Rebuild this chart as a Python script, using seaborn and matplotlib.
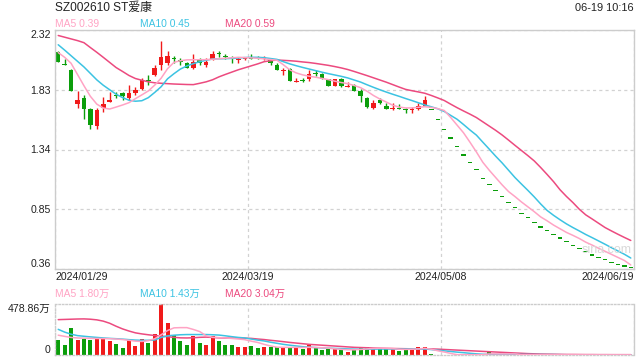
import numpy as np
import pandas as pd
import matplotlib
matplotlib.use("Agg")
import matplotlib.pyplot as plt
import seaborn as sns

sns.set_theme(style="white")
plt.rcParams['font.family'] = ['Liberation Sans', 'Noto Sans CJK SC', 'DejaVu Sans']

# --- data ---
title = "SZ002610 ST爱康"
stamp = "06-19 10:16"
date_labels = ["2024/01/29", "2024/03/19", "2024/05/08", "2024/06/19"]
date_pos = [0, 30, 60, 90]
price_ticks = [0.36, 0.85, 1.34, 1.83, 2.32]

# limit-down run at the end (open = high = low = close)
limit_down = [1.66, 1.58, 1.50, 1.43, 1.36, 1.29, 1.23, 1.17, 1.10, 1.05,
              1.00, 0.95, 0.90, 0.86, 0.81, 0.78, 0.74, 0.70, 0.67, 0.64,
              0.61, 0.58, 0.55, 0.52, 0.50, 0.47, 0.45, 0.43, 0.41, 0.39,
              0.38, 0.37]

opens = [2.14, 2.04, 1.99, 1.71, 1.76, 1.67, 1.53, 1.68, 1.73, 1.79,
         1.80, 1.76, 1.80, 1.84, 1.91, 1.95, 2.03, 2.05, 2.09, 2.07,
         2.05, 2.01, 2.07, 2.03, 2.08, 2.13, 2.11, 2.09, 2.07, 2.08,
         2.10, 2.10, 2.08, 2.07, 2.03, 1.98, 2.00, 1.89, 1.91, 1.92,
         1.97, 1.96, 1.92, 1.86, 1.92, 1.85, 1.87, 1.82, 1.76, 1.68,
         1.75, 1.70, 1.67, 1.68, 1.67, 1.66, 1.67, 1.70] + limit_down
highs = [2.15, 2.08, 2.00, 1.82, 1.79, 1.68, 1.68, 1.77, 1.81, 1.81,
         1.81, 1.87, 1.85, 1.93, 1.95, 2.03, 2.23, 2.15, 2.11, 2.09,
         2.06, 2.12, 2.09, 2.09, 2.15, 2.15, 2.12, 2.11, 2.10, 2.10,
         2.12, 2.11, 2.11, 2.09, 2.05, 2.01, 2.01, 1.93, 1.93, 1.99,
         1.99, 1.97, 1.92, 1.92, 1.93, 1.89, 1.88, 1.84, 1.77, 1.75,
         1.76, 1.72, 1.72, 1.71, 1.68, 1.69, 1.72, 1.78] + limit_down
lows = [2.06, 2.03, 1.82, 1.68, 1.59, 1.51, 1.51, 1.65, 1.73, 1.76,
        1.75, 1.75, 1.79, 1.83, 1.87, 1.94, 1.99, 2.03, 2.05, 2.03,
        2.01, 2.00, 2.03, 2.02, 2.07, 2.10, 2.08, 2.05, 2.05, 2.07,
        2.08, 2.08, 2.07, 2.03, 1.99, 1.95, 1.90, 1.89, 1.89, 1.90,
        1.94, 1.92, 1.86, 1.86, 1.85, 1.85, 1.82, 1.73, 1.68, 1.67,
        1.71, 1.67, 1.66, 1.67, 1.64, 1.64, 1.66, 1.70] + limit_down
closes = [2.06, 2.03, 1.82, 1.75, 1.67, 1.54, 1.66, 1.71, 1.75, 1.78,
          1.78, 1.80, 1.83, 1.91, 1.90, 2.01, 2.10, 2.11, 2.08, 2.06,
          2.01, 2.06, 2.05, 2.06, 2.12, 2.12, 2.10, 2.08, 2.08, 2.09,
          2.08, 2.09, 2.09, 2.05, 1.99, 1.99, 1.90, 1.90, 1.90, 1.96,
          1.96, 1.92, 1.86, 1.92, 1.86, 1.86, 1.82, 1.78, 1.69, 1.72,
          1.72, 1.67, 1.68, 1.67, 1.66, 1.67, 1.70, 1.75] + limit_down

ma5 = [2.135, 2.096, 2.047, 1.955, 1.863, 1.776, 1.712, 1.680, 1.672, 1.688,
       1.705, 1.724, 1.757, 1.788, 1.820, 1.868, 1.925, 2.003, 2.055, 2.068,
       2.075, 2.076, 2.076, 2.077, 2.080, 2.084, 2.088, 2.092, 2.096, 2.094,
       2.091, 2.088, 2.083, 2.078, 2.072, 2.035, 1.993, 1.968, 1.952, 1.941,
       1.933, 1.923, 1.913, 1.900, 1.889, 1.880, 1.865, 1.847, 1.818, 1.783,
       1.754, 1.729, 1.703, 1.688, 1.681, 1.681, 1.686, 1.691, 1.685, 1.675,
       1.660, 1.603, 1.540, 1.477, 1.400, 1.320, 1.235, 1.170, 1.110, 1.050,
       0.995, 0.954, 0.910, 0.870, 0.830, 0.787, 0.755, 0.720, 0.690, 0.660,
       0.636, 0.610, 0.580, 0.556, 0.530, 0.505, 0.480, 0.455, 0.430, 0.393]
ma10 = [2.199, 2.155, 2.109, 2.063, 2.017, 1.964, 1.911, 1.867, 1.830, 1.793,
        1.766, 1.744, 1.736, 1.740, 1.765, 1.808, 1.855, 1.920, 1.962, 2.000,
        2.025, 2.044, 2.060, 2.072, 2.082, 2.084, 2.085, 2.087, 2.090, 2.094,
        2.096, 2.096, 2.093, 2.086, 2.079, 2.060, 2.042, 2.027, 2.013, 2.000,
        1.987, 1.974, 1.962, 1.951, 1.940, 1.927, 1.910, 1.893, 1.871, 1.850,
        1.830, 1.811, 1.793, 1.776, 1.758, 1.741, 1.723, 1.705, 1.690, 1.674,
        1.652, 1.620, 1.588, 1.545, 1.500, 1.458, 1.400, 1.343, 1.285, 1.230,
        1.170, 1.110, 1.057, 1.005, 0.951, 0.893, 0.840, 0.800, 0.764, 0.730,
        0.700, 0.672, 0.643, 0.617, 0.590, 0.563, 0.535, 0.508, 0.481, 0.450]
ma20 = [2.275, 2.261, 2.247, 2.233, 2.216, 2.176, 2.137, 2.096, 2.054, 2.012,
        1.980, 1.947, 1.922, 1.908, 1.895, 1.887, 1.883, 1.880, 1.877, 1.875,
        1.873, 1.872, 1.883, 1.895, 1.912, 1.936, 1.956, 1.975, 1.994, 2.010,
        2.026, 2.042, 2.060, 2.068, 2.074, 2.071, 2.068, 2.064, 2.058, 2.053,
        2.046, 2.038, 2.030, 2.020, 2.009, 1.996, 1.980, 1.963, 1.946, 1.928,
        1.910, 1.892, 1.872, 1.852, 1.833, 1.822, 1.812, 1.801, 1.783, 1.763,
        1.742, 1.712, 1.683, 1.656, 1.630, 1.602, 1.567, 1.532, 1.497, 1.459,
        1.417, 1.374, 1.332, 1.290, 1.246, 1.192, 1.135, 1.076, 1.010, 0.955,
        0.905, 0.850, 0.804, 0.770, 0.735, 0.700, 0.672, 0.645, 0.619, 0.594]

# volume in 万 shares
volumes = [137, 98, 257, 137, 150, 137, 150, 150, 127, 104,
           65, 144, 88, 153, 110, 195, 478.86, 300, 186, 130,
           98, 179, 117, 98, 176, 130, 98, 98, 78, 71,
           85, 65, 71, 71, 71, 71, 71, 78, 52, 95,
           62, 46, 56, 56, 49, 29, 56, 71, 78, 56,
           56, 56, 56, 39, 56, 62, 71, 71, 6, 4,
           3, 3, 2.5, 2.5, 2, 2, 2, 39, 3, 2.5,
           2, 2, 2, 2, 2, 2, 2, 2, 2, 2,
           2, 2, 2, 2, 2, 2, 2, 1.8, 1.7, 1.5]
vol_ma5 = [186, 175, 165, 160, 158, 156, 155, 154, 153, 150,
           145, 138, 130, 127, 135, 153, 190, 230, 255, 257,
           257, 240, 220, 180, 166, 163, 160, 155, 150, 144,
           130, 118, 100, 85, 73, 72, 71, 72, 70, 72,
           70, 68, 64, 58, 53, 49, 49, 52, 57, 62,
           64, 63, 60, 54, 52, 54, 57, 63, 54, 40,
           28, 15, 3, 3, 3, 3, 3, 10, 10, 10,
           10, 10, 2.6, 2.5, 2.4, 2.3, 2.2, 2.2, 2.1, 2.1,
           2.0, 2.0, 1.95, 1.95, 1.9, 1.9, 1.85, 1.85, 1.82, 1.80]
vol_ma10 = [241, 215, 195, 182, 176, 170, 165, 160, 156, 153,
            149, 144, 140, 138, 138, 141, 165, 180, 186, 190,
            192, 192, 192, 192, 190, 187, 180, 172, 165, 160,
            150, 140, 132, 120, 110, 100, 92, 85, 78, 74,
            70, 67, 64, 62, 60, 57, 55, 54, 55, 55,
            56, 56, 56, 55, 56, 57, 58, 56, 51, 45,
            39, 33, 27, 22, 16, 11, 7, 6, 6, 6,
            6, 5.5, 5, 5, 4.5, 4.5, 4, 4, 3, 2.5,
            2.0, 1.9, 1.8, 1.75, 1.7, 1.65, 1.6, 1.55, 1.5, 1.43]
vol_ma20 = [332, 334, 336, 338, 339, 336, 330, 318, 298, 270,
            245, 225, 208, 198, 190, 183, 177, 172, 166, 161,
            160, 162, 166, 168, 165, 161, 159, 159, 159, 158,
            156, 150, 145, 138, 132, 125, 118, 112, 106, 100,
            96, 92, 88, 84, 80, 76, 72, 70, 68, 66,
            64, 62, 61, 60, 59, 58, 58, 58, 57, 55,
            52, 49, 46, 43, 40, 37, 34, 31, 28, 25,
            22, 19, 16, 13, 11, 9, 8, 7, 6, 5,
            5, 4.5, 4, 4, 3.5, 3.5, 3.2, 3.1, 3.05, 3.04]

UP, DOWN = "#f01a1a", "#0b9e0b"
C_MA5, C_MA10, C_MA20 = "#ffa3c4", "#3cc3e2", "#ec4a7f"
BORDER, GRID = "#cccccc", "#d2d2d2"

df = pd.DataFrame({"open": opens, "high": highs, "low": lows, "close": closes,
                   "vol": volumes, "ma5": ma5, "ma10": ma10, "ma20": ma20,
                   "vma5": vol_ma5, "vma10": vol_ma10, "vma20": vol_ma20})
df["x"] = np.arange(len(df)) + 0.5
prev = df["close"].shift(1).fillna(df["close"].iloc[0])
up = (df["close"] > df["open"]) | ((df["close"] == df["open"]) & (df["close"] >= prev))
colors = np.where(up, UP, DOWN)

W, H = 640, 360
fig = plt.figure(figsize=(6.4, 3.6), dpi=100)
ax = fig.add_axes([55 / W, 1 - 269 / H, 579 / W, 239 / H])
axv = fig.add_axes([55 / W, 1 - 355 / H, 579 / W, 51 / H])

# candles
ax.vlines(df["x"], df["low"], df["high"], colors=colors, lw=1, zorder=2)
body = np.maximum((df["close"] - df["open"]).abs(), 0.009)
ax.bar(df["x"], body, bottom=np.minimum(df["open"], df["close"]), width=0.7,
       color=colors, linewidth=0, zorder=2)
for col, c in [("ma20", C_MA20), ("ma10", C_MA10), ("ma5", C_MA5)]:
    sns.lineplot(data=df, x="x", y=col, ax=ax, color=c, lw=1.1, legend=False, zorder=3)

ax.set_xlim(0, len(df))
ax.set_ylim(price_ticks[0], price_ticks[-1])
ax.set_yticks(price_ticks)
ax.set_yticklabels([f"{v:.2f}" for v in price_ticks])
ax.set_xticks(date_pos)
ax.set_xticklabels(date_labels)
ax.set_xlabel("")
ax.set_ylabel("")
ax.tick_params(axis="both", length=0, labelsize=7.6, colors="#222222")
ax.tick_params(axis="y", pad=3)
ax.tick_params(axis="x", pad=2.5)
yl = ax.get_yticklabels()
yl[0].set_va("bottom")
yl[-1].set_va("top")
xl = ax.get_xticklabels()
xl[0].set_ha("left")
xl[-1].set_ha("right")
ax.grid(True, color=GRID, ls=(0, (2.5, 2.5)), lw=0.9)
for s in ax.spines.values():
    s.set_color(BORDER)
    s.set_linewidth(1)

# volume panel
axv.bar(df["x"], df["vol"], width=0.62, color=colors, linewidth=0, zorder=2)
for col, c in [("vma20", C_MA20), ("vma10", C_MA10), ("vma5", C_MA5)]:
    sns.lineplot(data=df, x="x", y=col, ax=axv, color=c, lw=1.1, legend=False, zorder=3)
vmax = max(volumes)
axv.set_xlim(0, len(df))
axv.set_ylim(0, vmax)
axv.set_yticks([0, vmax])
axv.set_yticklabels(["0", f"{vmax:.2f}万"])
axv.set_xticks(date_pos)
axv.set_xticklabels([])
axv.set_xlabel("")
axv.set_ylabel("")
axv.tick_params(axis="both", length=0, labelsize=7.6, colors="#222222")
axv.tick_params(axis="y", pad=3)
vl = axv.get_yticklabels()
vl[0].set_va("bottom")
vl[-1].set_va("top")
axv.grid(True, axis="x", color=GRID, ls=(0, (2.5, 2.5)), lw=0.9)
for name, s in axv.spines.items():
    s.set_color(BORDER)
    s.set_linewidth(1)
    if name != "right":
        s.set_linestyle((0, (1, 1.5)))

# header texts
fig.text(55 / W, 1 - 8 / H, title, fontsize=8.6, color="#222222", va="center")
fig.text(634 / W, 1 - 8 / H, stamp, fontsize=7.9, color="#222222", va="center", ha="right")
for xpix, name, vals, c in [(55, "MA5", ma5, C_MA5), (140, "MA10", ma10, C_MA10),
                            (225, "MA20", ma20, C_MA20)]:
    fig.text(xpix / W, 1 - 24 / H, f"{name} {vals[-1]:.2f}", fontsize=7.4, color=c, va="center")
for xpix, name, vals, c in [(55, "MA5", vol_ma5, C_MA5), (140, "MA10", vol_ma10, C_MA10),
                            (225, "MA20", vol_ma20, C_MA20)]:
    fig.text(xpix / W, 1 - 293.5 / H, f"{name} {vals[-1]:.2f}万", fontsize=7.4, color=c, va="center")
fig.text(582 / W, 1 - 250 / H, "sina.com", fontsize=9, color="#d9d9d9", va="center", zorder=1)

fig.savefig("out.png", dpi=100)
